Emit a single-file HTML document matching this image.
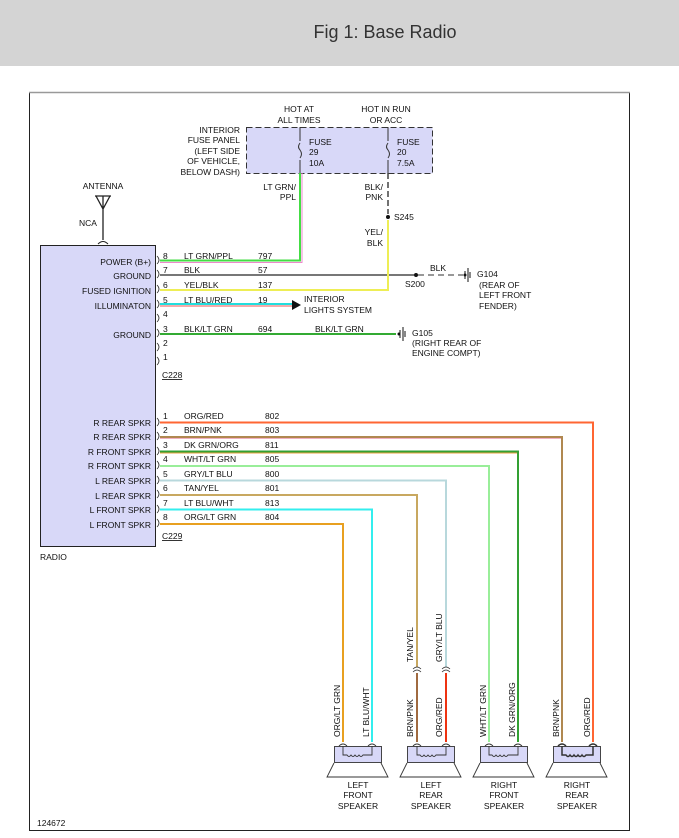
<!DOCTYPE html>
<html><head><meta charset="utf-8"><style>
body{margin:0;background:#fff;width:679px;height:838px;overflow:hidden}
svg{display:block}
text{font-family:"Liberation Sans",sans-serif;font-size:8.5px;fill:#111}
</style></head><body>
<svg width="679" height="838" viewBox="0 0 679 838">
<rect x="0" y="0" width="679" height="66" fill="#d4d4d4"/>
<text x="385" y="38" text-anchor="middle" style="font-size:18px;fill:#333">Fig 1: Base Radio</text>
<rect x="29.5" y="92.5" width="600" height="738" fill="#fff" stroke="#222" stroke-width="1"/>
<line x1="29" y1="92.5" x2="630" y2="92.5" stroke="#999" stroke-width="1.5"/>

<!-- fuse panel -->
<rect x="246.5" y="127.5" width="186" height="46" fill="#d8d8f8" stroke="#333" stroke-dasharray="6,3"/>
<text x="240" y="133" text-anchor="end">INTERIOR</text>
<text x="240" y="143" text-anchor="end">FUSE PANEL</text>
<text x="240" y="154" text-anchor="end">(LEFT SIDE</text>
<text x="240" y="164" text-anchor="end">OF VEHICLE,</text>
<text x="240" y="175" text-anchor="end">BELOW DASH)</text>
<text x="299" y="112" text-anchor="middle">HOT AT</text>
<text x="299" y="123" text-anchor="middle">ALL TIMES</text>
<text x="386" y="112" text-anchor="middle">HOT IN RUN</text>
<text x="386" y="123" text-anchor="middle">OR ACC</text>
<line x1="300" y1="127" x2="300" y2="141" stroke="#333"/>
<path d="M300,143 q-3,4 0,7 q3,4 0,8" fill="none" stroke="#333"/>
<line x1="300" y1="160" x2="300" y2="173" stroke="#333"/>
<line x1="388" y1="127" x2="388" y2="141" stroke="#333"/>
<path d="M388,143 q-3,4 0,7 q3,4 0,8" fill="none" stroke="#333"/>
<line x1="388" y1="160" x2="388" y2="173" stroke="#333"/>
<text x="309" y="145">FUSE</text><text x="309" y="155">29</text><text x="309" y="166">10A</text>
<text x="397" y="145">FUSE</text><text x="397" y="155">20</text><text x="397" y="166">7.5A</text>
<text x="296" y="190" text-anchor="end">LT GRN/</text>
<text x="296" y="200" text-anchor="end">PPL</text>
<text x="383" y="190" text-anchor="end">BLK/</text>
<text x="383" y="200" text-anchor="end">PNK</text>
<line x1="388" y1="173" x2="388" y2="214" stroke="#444" stroke-width="1.5" stroke-dasharray="6,3"/>
<circle cx="388" cy="217" r="2" fill="#111"/>
<text x="394" y="220">S245</text>
<text x="383" y="235" text-anchor="end">YEL/</text>
<text x="383" y="246" text-anchor="end">BLK</text>

<!-- antenna -->
<text x="103" y="189" text-anchor="middle">ANTENNA</text>
<path d="M95,196 L111,196 M96,196 L103,209 L110,196 M103,196 L103,240" stroke="#222" stroke-width="1.3" fill="none"/>
<text x="79" y="226">NCA</text>
<path d="M98,244 q5,-5 10,0" fill="none" stroke="#222"/>

<!-- radio -->
<rect x="40.5" y="245.5" width="115" height="301" fill="#d8d8f8" stroke="#222"/>
<text x="40" y="560">RADIO</text>
<g text-anchor="end">
<text x="151" y="265">POWER (B+)</text>
<text x="151" y="279">GROUND</text>
<text x="151" y="294">FUSED IGNITION</text>
<text x="151" y="309">ILLUMINATON</text>
<text x="151" y="338">GROUND</text>
<text x="151" y="426">R REAR SPKR</text>
<text x="151" y="440">R REAR SPKR</text>
<text x="151" y="455">R FRONT SPKR</text>
<text x="151" y="469">R FRONT SPKR</text>
<text x="151" y="484">L REAR SPKR</text>
<text x="151" y="499">L REAR SPKR</text>
<text x="151" y="513">L FRONT SPKR</text>
<text x="151" y="528">L FRONT SPKR</text>
</g>
<g fill="none" stroke="#333" stroke-width="0.8">
<path d="M157,256 q4,4 0,8"/><path d="M157,270 q4,4 0,8"/><path d="M157,285 q4,4 0,8"/><path d="M157,300 q4,4 0,8"/><path d="M157,314 q4,4 0,8"/><path d="M157,329 q4,4 0,8"/><path d="M157,343 q4,4 0,8"/><path d="M157,357 q4,4 0,8"/>
<path d="M157,418 q4,4 0,8"/><path d="M157,432 q4,4 0,8"/><path d="M157,447 q4,4 0,8"/><path d="M157,461 q4,4 0,8"/><path d="M157,476 q4,4 0,8"/><path d="M157,490 q4,4 0,8"/><path d="M157,505 q4,4 0,8"/><path d="M157,519 q4,4 0,8"/>
</g>
<g>
<text x="163" y="259">8</text><text x="163" y="273">7</text><text x="163" y="288">6</text><text x="163" y="303">5</text><text x="163" y="317">4</text><text x="163" y="332">3</text><text x="163" y="346">2</text><text x="163" y="360">1</text>
<text x="184" y="259">LT GRN/PPL</text><text x="258" y="259">797</text>
<text x="184" y="273">BLK</text><text x="258" y="273">57</text>
<text x="184" y="288">YEL/BLK</text><text x="258" y="288">137</text>
<text x="184" y="303">LT BLU/RED</text><text x="258" y="303">19</text>
<text x="184" y="332">BLK/LT GRN</text><text x="258" y="332">694</text>
<text x="315" y="332">BLK/LT GRN</text>
<text x="162" y="378" style="text-decoration:underline">C228</text>
</g>
<!-- C228 wires -->
<path d="M160,260.5 H300 V173" fill="none" stroke="#44dd44" stroke-width="2"/>
<path d="M160,262.5 H302 V173" fill="none" stroke="#ee88cc" stroke-width="1"/>
<line x1="160" y1="275" x2="414" y2="275" stroke="#777" stroke-width="2"/>
<circle cx="416" cy="275" r="2" fill="#111"/>
<text x="405" y="287">S200</text>
<text x="430" y="271">BLK</text>
<line x1="418" y1="275" x2="463" y2="275" stroke="#777" stroke-width="1.5" stroke-dasharray="6,4"/>
<path d="M465,271 v8 M468,268 v14 M470,272 v6" stroke="#111"/>
<circle cx="465" cy="275" r="1.5" fill="#111"/>
<text x="477" y="277">G104</text><text x="479" y="288">(REAR OF</text><text x="479" y="298">LEFT FRONT</text><text x="479" y="309">FENDER)</text>
<path d="M160,290 H388 V220" fill="none" stroke="#eeee55" stroke-width="2"/>
<line x1="160" y1="304" x2="292" y2="304" stroke="#22dddd" stroke-width="2"/>
<line x1="160" y1="306" x2="292" y2="306" stroke="#ee5555" stroke-width="1"/>
<path d="M292,300 L301,305 L292,310 Z" fill="#111"/>
<text x="304" y="302">INTERIOR</text><text x="304" y="313">LIGHTS SYSTEM</text>
<line x1="160" y1="334" x2="396" y2="334" stroke="#33aa33" stroke-width="2"/>
<path d="M398,334 h2 M400,330 v8 M403,327 v14 M405,331 v6" stroke="#111"/>
<circle cx="399" cy="334" r="1.5" fill="#111"/>
<text x="412" y="336">G105</text><text x="412" y="346">(RIGHT REAR OF</text><text x="412" y="356">ENGINE COMPT)</text>

<!-- C229 labels -->
<g>
<text x="163" y="419">1</text><text x="184" y="419">ORG/RED</text><text x="265" y="419">802</text>
<text x="163" y="433">2</text><text x="184" y="433">BRN/PNK</text><text x="265" y="433">803</text>
<text x="163" y="448">3</text><text x="184" y="448">DK GRN/ORG</text><text x="265" y="448">811</text>
<text x="163" y="462">4</text><text x="184" y="462">WHT/LT GRN</text><text x="265" y="462">805</text>
<text x="163" y="477">5</text><text x="184" y="477">GRY/LT BLU</text><text x="265" y="477">800</text>
<text x="163" y="491">6</text><text x="184" y="491">TAN/YEL</text><text x="265" y="491">801</text>
<text x="163" y="506">7</text><text x="184" y="506">LT BLU/WHT</text><text x="265" y="506">813</text>
<text x="163" y="520">8</text><text x="184" y="520">ORG/LT GRN</text><text x="265" y="520">804</text>
<text x="162" y="539" style="text-decoration:underline">C229</text>
</g>
<g fill="none" stroke-width="2">
<path d="M160,422.5 H593 V742" stroke="#ff6633"/>
<path d="M160,437 H562 V742" stroke="#b08850"/>
<path d="M160,438.5 H561" stroke="#f0b0c0" stroke-width="1"/>
<path d="M160,451.5 H518 V742" stroke="#33a033"/>
<path d="M160,453 H517" stroke="#e8a040" stroke-width="1"/>
<path d="M160,466 H489 V742" stroke="#99ee99"/>
<path d="M160,480.5 H446 V667" stroke="#b8d8dc"/>
<path d="M160,495 H417 V667" stroke="#c8a860"/>
<path d="M160,509.5 H372 V742" stroke="#33eeee"/>
<path d="M160,524 H343 V742" stroke="#e8a020"/>
<path d="M417,673 V742" stroke="#a06a40"/>
<path d="M446,673 V742" stroke="#ee3311"/>
</g>
<g fill="none" stroke="#333" stroke-width="0.8">
<path d="M413,669 q4,-4 8,0 M413,672 q4,-4 8,0"/>
<path d="M442,669 q4,-4 8,0 M442,672 q4,-4 8,0"/>
</g>
<!-- vertical labels -->
<g>
<text transform="translate(340,737) rotate(-90)">ORG/LT GRN</text>
<text transform="translate(369,737) rotate(-90)">LT BLU/WHT</text>
<text transform="translate(413,737) rotate(-90)">BRN/PNK</text>
<text transform="translate(442,737) rotate(-90)">ORG/RED</text>
<text transform="translate(413,662) rotate(-90)">TAN/YEL</text>
<text transform="translate(442,662) rotate(-90)">GRY/LT BLU</text>
<text transform="translate(486,737) rotate(-90)">WHT/LT GRN</text>
<text transform="translate(515,737) rotate(-90)">DK GRN/ORG</text>
<text transform="translate(559,737) rotate(-90)">BRN/PNK</text>
<text transform="translate(590,737) rotate(-90)">ORG/RED</text>
</g>
<!-- speakers -->
<g id="spk">
</g>
<g fill="none" stroke="#333" stroke-width="0.9">
<!-- LF -->
<rect x="334.5" y="746.5" width="47" height="16" fill="#d8d8f8"/>
<path d="M334,763 L327,777 H388 L381,763"/>
<path d="M339,746 q4,-4 8,0 M368,746 q4,-4 8,0 M343,746 V755 H347 q2,3 4,0 q2,3 4,0 q2,3 4,0 q2,3 4,0 H372 V746"/>
<!-- LR -->
<rect x="407.5" y="746.5" width="47" height="16" fill="#d8d8f8"/>
<path d="M407,763 L400,777 H461 L454,763"/>
<path d="M413,746 q4,-4 8,0 M442,746 q4,-4 8,0 M417,746 V755 H420 q2,3 4,0 q2,3 4,0 q2,3 4,0 q2,3 4,0 H446 V746"/>
<!-- RF -->
<rect x="480.5" y="746.5" width="47" height="16" fill="#d8d8f8"/>
<path d="M480,763 L473,777 H534 L527,763"/>
<path d="M485,746 q4,-4 8,0 M514,746 q4,-4 8,0 M489,746 V755 H492 q2,3 4,0 q2,3 4,0 q2,3 4,0 q2,3 4,0 H518 V746"/>
<!-- RR -->
<rect x="553.5" y="746.5" width="47" height="16" fill="#d8d8f8"/>
<path d="M553,763 L546,777 H607 L600,763"/>
<path d="M558,746 q4,-4 8,0 M589,746 q4,-4 8,0 M562,746 V755 H566 q2,3 4,0 q2,3 4,0 q2,3 4,0 q2,3 4,0 q2,3 4,0 H593 V746" stroke-width="1.5"/>
</g>
<g text-anchor="middle">
<text x="358" y="788">LEFT</text><text x="358" y="798">FRONT</text><text x="358" y="809">SPEAKER</text>
<text x="431" y="788">LEFT</text><text x="431" y="798">REAR</text><text x="431" y="809">SPEAKER</text>
<text x="504" y="788">RIGHT</text><text x="504" y="798">FRONT</text><text x="504" y="809">SPEAKER</text>
<text x="577" y="788">RIGHT</text><text x="577" y="798">REAR</text><text x="577" y="809">SPEAKER</text>
</g>
<text x="37" y="826">124672</text>
</svg>
</body></html>
